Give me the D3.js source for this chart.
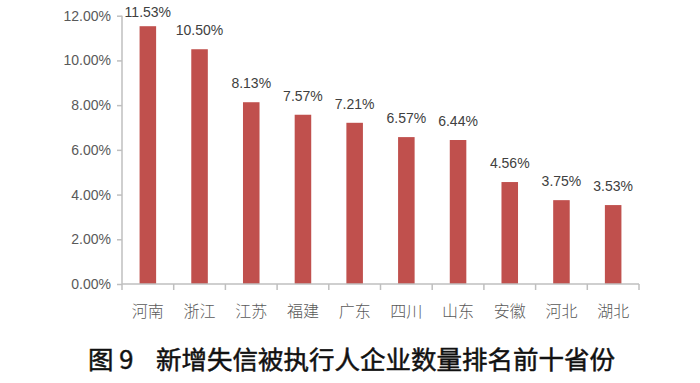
<!DOCTYPE html>
<html><head><meta charset="utf-8">
<script src="https://cdn.jsdelivr.net/npm/d3@7"></script>
<style>body{margin:0;background:#fff;}svg{display:block;}</style>
</head><body>
<svg id="c" width="700" height="383"></svg>
<script>
const categories = ["河南","浙江","江苏","福建","广东","四川","山东","安徽","河北","湖北"];
const values = [11.53, 10.50, 8.13, 7.57, 7.21, 6.57, 6.44, 4.56, 3.75, 3.53];
const yTicks = [0, 2, 4, 6, 8, 10, 12];
const titleNum = "图 9";
const titleText = "新增失信被执行人企业数量排名前十省份";

(function(){
const svg = d3.select("#c");
const pL = 122, pR = 639, pT = 15.7, pB = 284;
const x = d3.scaleBand().domain(categories).range([pL, pR]).paddingInner(0.68).paddingOuter(0.34);
const y = d3.scaleLinear().domain([0, 12]).range([pB, pT]);
const fmt = v => v.toFixed(2) + "%";

// bars
svg.selectAll("rect.bar").data(values).join("rect")
  .attr("class", "bar")
  .attr("x", (d,i) => x(categories[i]))
  .attr("width", x.bandwidth())
  .attr("y", d => y(d))
  .attr("height", d => pB - y(d))
  .attr("fill", "#c0504d");

// value labels
svg.selectAll("text.val").data(values).join("text")
  .attr("class", "val")
  .attr("x", (d,i) => x(categories[i]) + x.bandwidth()/2)
  .attr("y", d => Math.max(y(d) - 14, 16.7))
  .attr("text-anchor", "middle")
  .attr("font-family", "Liberation Sans, Arial, sans-serif")
  .attr("font-size", 14)
  .attr("fill", "#404040")
  .text(d => fmt(d));

// y axis
const yAxis = svg.append("g").attr("transform", `translate(${pL},0)`)
  .call(d3.axisLeft(y).tickValues(yTicks).tickSize(5).tickPadding(6).tickFormat(d => d.toFixed(2) + "%"));
yAxis.select(".domain").attr("d", `M0,${pT}V${pB}`).attr("stroke", "#bfbfbf").attr("stroke-width", 1.5);
yAxis.selectAll(".tick line").attr("stroke", "#bfbfbf").attr("stroke-width", 1.5);
yAxis.selectAll(".tick text").attr("font-family", "Liberation Sans, Arial, sans-serif").attr("font-size", 14).attr("fill", "#595959");

// x axis
const xAxis = svg.append("g").attr("transform", `translate(0,${pB})`)
  .call(d3.axisBottom(x).tickSize(0).tickPadding(0));
xAxis.select(".domain").attr("d", `M${pL},0H${pR}`).attr("stroke", "#bfbfbf").attr("stroke-width", 1.5);
xAxis.selectAll(".tick text").attr("font-family", "Noto Sans CJK SC, sans-serif").attr("font-size", 16)
  .attr("font-weight", 300)
  .attr("fill", "#595959").attr("y", 33).attr("dy", null);
const step = x.step();
xAxis.selectAll("line.sep").data(d3.range(categories.length + 1)).join("line")
  .attr("class", "sep")
  .attr("x1", i => pL + i*step).attr("x2", i => pL + i*step)
  .attr("y1", 0).attr("y2", 6)
  .attr("stroke", "#bfbfbf").attr("stroke-width", 1.5);

// title
svg.append("text").attr("x", 88).attr("y", 368.5)
  .attr("font-family", "Noto Sans CJK SC, sans-serif").attr("font-weight", 400)
  .attr("stroke", "#111").attr("stroke-width", 0.5)
  .attr("font-size", 25.5).attr("fill", "#111").text(titleNum);
svg.append("text").attr("x", 156).attr("y", 368.5)
  .attr("font-family", "Noto Sans CJK SC, sans-serif").attr("font-weight", 400)
  .attr("stroke", "#111").attr("stroke-width", 0.5)
  .attr("font-size", 25.5).attr("fill", "#111").text(titleText);
})();
</script>
</body></html>
